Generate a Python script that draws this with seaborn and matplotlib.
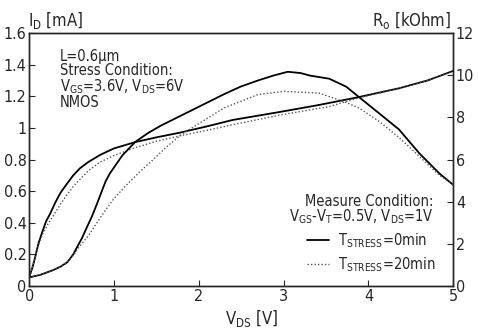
import matplotlib
matplotlib.use('Agg')
import matplotlib.pyplot as plt
import matplotlib.font_manager as fm
import seaborn as sns
from matplotlib.lines import Line2D
from matplotlib.ticker import FormatStrFormatter

# drain current Id [mA] vs Vds [V]
vds_id0 = [0, 0.04, 0.07, 0.11, 0.16, 0.2, 0.25, 0.31, 0.37, 0.45, 0.52, 0.6, 0.7, 0.84, 1.0, 1.25, 1.5,
           1.78, 2.1, 2.4, 2.95, 3.42, 3.89, 4.36, 4.7, 5.0]
id_0min = [0.055, 0.12, 0.18, 0.27, 0.35, 0.41, 0.46, 0.53, 0.59, 0.65, 0.70, 0.745, 0.785, 0.83, 0.87,
           0.91, 0.94, 0.97, 1.01, 1.05, 1.10, 1.145, 1.195, 1.25, 1.30, 1.36]
vds_id20 = [0, 0.04, 0.07, 0.11, 0.16, 0.22, 0.28, 0.36, 0.45, 0.52, 0.6, 0.7, 0.84, 1.0, 1.25, 1.5,
            1.78, 2.1, 2.4, 2.95, 3.54, 3.89, 4.36, 4.7, 5.0]
id_20min = [0.055, 0.12, 0.18, 0.26, 0.33, 0.39, 0.44, 0.51, 0.58, 0.63, 0.675, 0.73, 0.785, 0.825, 0.875,
            0.915, 0.95, 0.985, 1.02, 1.08, 1.135, 1.19, 1.25, 1.30, 1.36]

# output resistance Ro [kOhm] vs Vds [V]
vds_ro0 = [0, 0.13, 0.28, 0.37, 0.45, 0.52, 0.57, 0.62, 0.68, 0.74, 0.8, 0.85, 0.9, 0.95, 1.1, 1.25, 1.4,
           1.55, 1.7, 1.9, 2.1, 2.3, 2.49, 2.7, 2.88, 3.05, 3.2, 3.31, 3.54, 3.74, 3.89, 4.13, 4.36,
           4.6, 4.84, 5.0]
ro_0min = [0.41, 0.53, 0.75, 0.92, 1.13, 1.5, 1.88, 2.25, 2.78, 3.3, 3.9, 4.43, 4.95, 5.33, 6.2, 6.83, 7.25,
           7.6, 7.9, 8.3, 8.7, 9.1, 9.45, 9.75, 9.98, 10.16, 10.1, 9.98, 9.83, 9.45, 8.96, 8.18, 7.43,
           6.3, 5.33, 4.8]
vds_ro20 = [0, 0.13, 0.28, 0.37, 0.45, 0.52, 0.57, 0.63, 0.7, 0.8, 0.9, 1.0, 1.15, 1.3, 1.45, 1.62, 1.8,
            2.0, 2.3, 2.7, 3.0, 3.42, 3.74, 3.89, 4.13, 4.36, 4.6, 4.84, 5.0]
ro_20min = [0.41, 0.53, 0.75, 0.92, 1.13, 1.45, 1.75, 2.05, 2.4, 3.0, 3.6, 4.15, 4.8, 5.4, 5.95, 6.6, 7.2,
            7.7, 8.45, 9.08, 9.23, 9.15, 8.7, 8.44, 7.8, 7.05, 6.15, 5.25, 4.8]

sns.set_style('ticks')
names = {f.name for f in fm.fontManager.ttflist}
if 'Liberation Sans Narrow' in names:
    fam = ['Liberation Sans Narrow', 'DejaVu Sans']
    stretch = 'normal'
else:
    fam = ['DejaVu Sans']
    stretch = 'condensed'
plt.rcParams['font.family'] = fam
plt.rcParams['font.stretch'] = stretch
plt.rcParams['mathtext.fontset'] = 'custom'
plt.rcParams['mathtext.rm'] = fam[0] + ':stretch=' + stretch
plt.rcParams['mathtext.it'] = fam[0] + ':stretch=' + stretch
plt.rcParams['xtick.direction'] = 'in'
plt.rcParams['ytick.direction'] = 'in'

fig = plt.figure(figsize=(4.78, 3.33), dpi=100)
ax = fig.add_axes([0.061, 0.141, 0.887, 0.76])
ax2 = ax.twinx()

solid = dict(color='black', lw=1.3)
dotted = dict(color='#555555', lw=1.0, linestyle=(0, (1, 1.5)))

sns.lineplot(x=vds_id0, y=id_0min, ax=ax, **solid)
sns.lineplot(x=vds_id20, y=id_20min, ax=ax, **dotted)
sns.lineplot(x=vds_ro0, y=ro_0min, ax=ax2, **solid)
sns.lineplot(x=vds_ro20, y=ro_20min, ax=ax2, **dotted)

ax.set_xlim(0, 5)
ax.set_ylim(0, 1.6)
ax2.set_ylim(0, 12)
ax.set_xticks([0, 1, 2, 3, 4, 5])
ax.set_yticks([0, 0.2, 0.4, 0.6, 0.8, 1.0, 1.2, 1.4, 1.6])
ax.yaxis.set_major_formatter(FormatStrFormatter('%g'))
ax2.set_yticks([0, 2, 4, 6, 8, 10, 12])
for a in (ax, ax2):
    a.tick_params(labelsize=11.5, length=4, width=0.8, pad=2)
    for s in a.spines.values():
        s.set_linewidth(1.0)

ax.set_xlabel(r'V$_\mathrm{DS}$ [V]', fontsize=12)
ax.xaxis.set_label_coords(0.524, -0.085)
ax.set_ylabel('')
ax2.set_ylabel('')
fig.text(0.059, 0.922, r'I$_\mathrm{D}$ [mA]', fontsize=12, ha='left', va='baseline')
fig.text(0.945, 0.922, r'R$_\mathrm{o}$ [kOhm]', fontsize=12, ha='right', va='baseline')

ax.text(0.073, 0.935, 'L=0.6\u03bcm\nStress Condition:\n'
        r'V$_\mathrm{GS}$=3.6V, V$_\mathrm{DS}$=6V' '\nNMOS',
        transform=ax.transAxes, fontsize=10.5, va='top', ha='left', linespacing=0.92)

ax.text(0.953, 0.365, 'Measure Condition:\n'
        r'V$_\mathrm{GS}$-V$_\mathrm{T}$=0.5V, V$_\mathrm{DS}$=1V',
        transform=ax.transAxes, fontsize=10.5, va='top', ha='right', linespacing=0.92)

handles = [Line2D([], [], **solid), Line2D([], [], **dotted)]
labels = [r'T$_\mathrm{STRESS}$=0min', r'T$_\mathrm{STRESS}$=20min']
ax.legend(handles, labels, loc='upper right', bbox_to_anchor=(0.958, 0.218), frameon=False,
          borderaxespad=0, borderpad=0, fontsize=10.5, handlelength=1.5, handletextpad=0.6,
          labelspacing=0.4)

fig.savefig('out.png', dpi=100)
